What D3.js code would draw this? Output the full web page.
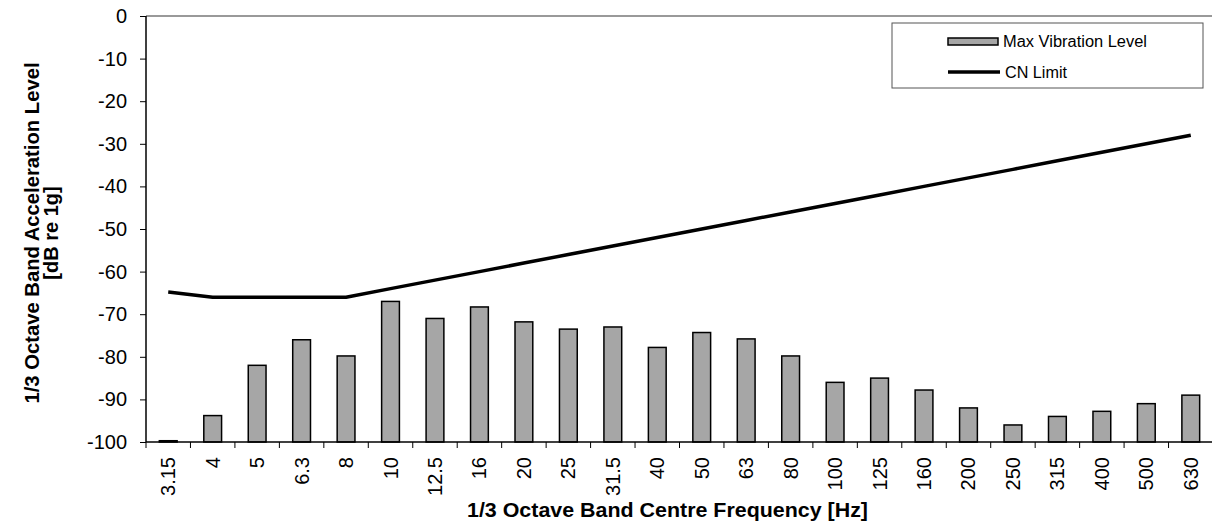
<!DOCTYPE html>
<html>
<head>
<meta charset="utf-8">
<script src="https://cdn.jsdelivr.net/npm/d3@7"></script>
<style>
  body { margin: 0; background: #fff; }
  svg { display: block; font-family: "Liberation Sans", Arial, sans-serif; }
</style>
</head>
<body>
<div id="svgcontainer"></div>
<script>
// 1/3 octave band centre frequencies
var bands = ["3.15", "4", "5", "6.3", "8", "10", "12.5", "16", "20", "25", "31.5", "40",
             "50", "63", "80", "100", "125", "160", "200", "250", "315", "400", "500", "630"];
// measured max vibration level, dB re 1g
var maxLevel = [-99.7, -93.8, -82, -76, -79.8, -67, -71, -68.3, -71.8, -73.5, -73, -77.8,
                -74.3, -75.8, -79.8, -86, -85, -87.8, -92, -96, -94, -92.8, -91, -89];
// CN limit curve
var cnLimit = [-64.8, -66, -66, -66, -66, -64, -62, -60, -58, -56, -54, -52,
               -50, -48, -46, -44, -42, -40, -38, -36, -34, -32, -30, -28];
var yTicks = [0, -10, -20, -30, -40, -50, -60, -70, -80, -90, -100];

var W = 1212, H = 526,
    margin = {top: 16, right: -1, bottom: 84, left: 146},
    width = W - margin.left - margin.right,
    height = H - margin.top - margin.bottom;

var svg = d3.select("div#svgcontainer")
            .append("svg")
            .attr("width", W)
            .attr("height", H),
    g = svg.append("g")
           .attr("transform", "translate(" + margin.left + "," + margin.top + ")");

var x = d3.scaleBand().domain(bands).range([0, width]).padding(0);
var y = d3.scaleLinear().domain([-100, 0]).range([height, 0]);
var bw = x.bandwidth();

// top border of plot area
g.append("line")
  .attr("x1", 0).attr("x2", width)
  .attr("y1", 0).attr("y2", 0)
  .style("stroke", "#999").style("stroke-width", 2);

// bars
g.selectAll(".bar")
  .data(bands)
  .enter().append("rect")
  .attr("class", "bar")
  .attr("x", function(d){ return x(d) + bw * 0.3; })
  .attr("width", bw * 0.4)
  .attr("y", function(d, i){ return y(maxLevel[i]); })
  .attr("height", function(d, i){ return y(-100) - y(maxLevel[i]); })
  .style("fill", "#a6a6a6")
  .style("stroke", "#000")
  .style("stroke-width", 1.5);

// CN limit line
var line = d3.line()
    .x(function(d, i){ return x(bands[i]) + bw / 2; })
    .y(function(d){ return y(d); });

g.append("path")
  .datum(cnLimit)
  .attr("d", line)
  .style("fill", "none")
  .style("stroke", "#000")
  .style("stroke-width", 3.5)
  .style("stroke-linejoin", "round");

// y axis
var yAxis = g.append("g")
  .call(d3.axisLeft(y).tickValues(yTicks).tickSize(6).tickFormat(function(d){ return d; }));
yAxis.select(".domain").remove();
yAxis.selectAll(".tick line").style("stroke", "#000");
yAxis.selectAll("text")
  .attr("x", -19)
  .style("font-size", "20px").style("fill", "#000");
g.append("line")
  .attr("x1", 0).attr("x2", 0).attr("y1", 0).attr("y2", height)
  .style("stroke", "#000").style("stroke-width", 1.5);

// x axis
var xAxis = g.append("g")
  .attr("transform", "translate(0," + height + ")")
  .call(d3.axisBottom(x).tickSize(0));
xAxis.select(".domain").remove();
xAxis.selectAll("text")
  .attr("transform", "rotate(-90)")
  .attr("x", -15).attr("y", 0).attr("dy", "0.35em")
  .style("text-anchor", "end")
  .style("font-size", "20px").style("fill", "#000");

g.append("line")
  .attr("x1", 0).attr("x2", width).attr("y1", height).attr("y2", height)
  .style("stroke", "#000").style("stroke-width", 1.5);

g.selectAll(".xtick")
  .data(bands.concat(["end"]))
  .enter().append("line")
  .attr("class", "xtick")
  .attr("x1", function(d){ return d === "end" ? width : x(d); })
  .attr("x2", function(d){ return d === "end" ? width : x(d); })
  .attr("y1", height).attr("y2", height + 6)
  .style("stroke", "#000");

// axis titles
svg.append("text")
  .attr("x", 467).attr("y", 517)
  .attr("textLength", 401).attr("lengthAdjust", "spacingAndGlyphs")
  .style("font-size", "20px").style("font-weight", "bold")
  .text("1/3 Octave Band Centre Frequency [Hz]");

var yt = svg.append("text")
  .attr("transform", "translate(0,233) rotate(-90)")
  .style("text-anchor", "middle")
  .style("font-size", "20px").style("font-weight", "bold");
yt.append("tspan").attr("x", 0).attr("y", 39)
  .attr("textLength", 341).attr("lengthAdjust", "spacingAndGlyphs")
  .text("1/3 Octave Band Acceleration Level");
yt.append("tspan").attr("x", 0).attr("y", 58).text("[dB re 1g]");

// legend
var lg = svg.append("g");
lg.append("rect")
  .attr("x", 892).attr("y", 23).attr("width", 311).attr("height", 65)
  .style("fill", "#fff").style("stroke", "#555").style("stroke-width", 1);
lg.append("rect")
  .attr("x", 948).attr("y", 38).attr("width", 50).attr("height", 7)
  .style("fill", "#a6a6a6").style("stroke", "#000").style("stroke-width", 1.5);
lg.append("text")
  .attr("x", 1003).attr("y", 47)
  .attr("textLength", 144).attr("lengthAdjust", "spacingAndGlyphs")
  .style("font-size", "16px")
  .text("Max Vibration Level");
lg.append("line")
  .attr("x1", 948).attr("x2", 1000).attr("y1", 72).attr("y2", 72)
  .style("stroke", "#000").style("stroke-width", 3.5);
lg.append("text")
  .attr("x", 1005).attr("y", 78)
  .attr("textLength", 62).attr("lengthAdjust", "spacingAndGlyphs")
  .style("font-size", "16px")
  .text("CN Limit");
</script>
</body>
</html>
